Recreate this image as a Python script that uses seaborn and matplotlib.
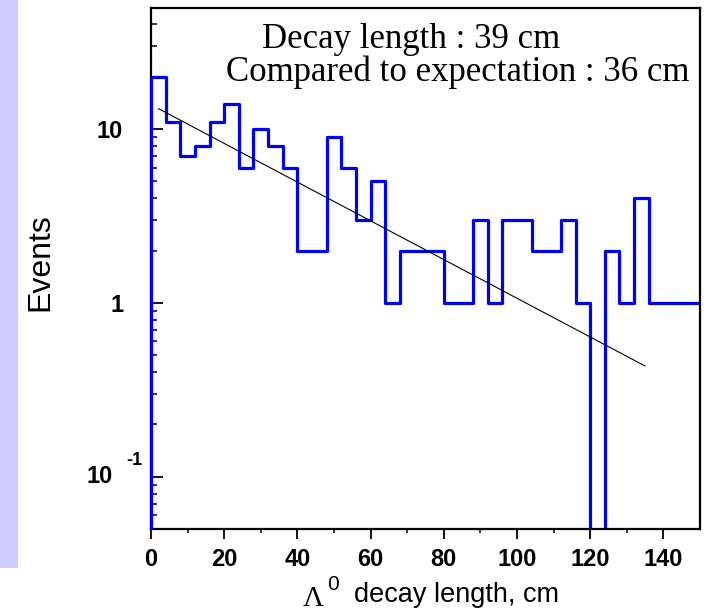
import numpy as np
import pandas as pd
import matplotlib
matplotlib.use("Agg")
import matplotlib.pyplot as plt
from matplotlib.patches import Rectangle
from matplotlib.ticker import FixedLocator, FixedFormatter, LogLocator, NullFormatter
import seaborn as sns

# Lambda0 decay-length histogram: 4 cm bins from 0 to 152 cm
bin_width = 4
bin_range = (0, 152)
counts = [20, 11, 7, 8, 11, 14, 6, 10, 8, 6,
          2, 2, 9, 6, 3, 5, 1, 2, 2, 2,
          1, 1, 3, 1, 3, 3, 2, 2, 3, 1,
          0, 2, 1, 4, 1, 1, 1, 1]

# Exponential fit N(x) = N0 * exp(-x / L)
decay_length = 39.0      # cm, fitted
expected_length = 36.0   # cm
fit_norm = 13.8
fit_range = (2.0, 135.0)

x_ticks = [0, 20, 40, 60, 80, 100, 120, 140]
x_minor = [10, 30, 50, 70, 90, 110, 130]
y_ticks = [0.1, 1, 10]

W, H = 707, 612
sns.set_theme(style="white")
plt.rcParams["font.family"] = ["Liberation Sans", "DejaVu Sans"]

fig = plt.figure(figsize=(W / 100, H / 100), dpi=100)
fig.patch.set_facecolor("white")

# side band on the left of the canvas
fig.patches.append(Rectangle((0, 1 - 568 / H), 18 / W, 568 / H,
                             transform=fig.transFigure, facecolor="#ccccff",
                             edgecolor="none", zorder=0))

L, R, T, B = 151, 700, 7.5, 529
ax = fig.add_axes([L / W, 1 - B / H, (R - L) / W, (B - T) / H])
ax.set_facecolor("white")

bin_left = np.arange(bin_range[0], bin_range[1], bin_width)
df = pd.DataFrame({"length": bin_left + bin_width / 2, "events": counts})
sns.histplot(data=df, x="length", weights="events", binwidth=bin_width,
             binrange=bin_range, element="step", fill=False, color="#0000ff",
             linewidth=2.3, ax=ax)
ax.set_yscale("log")
ax.set_xlim(0, 150)
ax.set_ylim(0.05, 50)
# left outline of the first bin
ax.vlines(bin_left[0], 0.05, counts[0], color="#0000ff", linewidth=2.3,
          zorder=3, clip_on=False)

x_fit = np.linspace(fit_range[0], fit_range[1], 200)
y_fit = fit_norm * np.exp(-x_fit / decay_length)
sns.lineplot(x=x_fit, y=y_fit, color="black", linewidth=0.8, ax=ax)

for s in ax.spines.values():
    s.set_color("black")
    s.set_linewidth(1.6)
    s.set_visible(True)

tick_fs = 17

ax.xaxis.set_major_locator(FixedLocator(x_ticks))
ax.xaxis.set_minor_locator(FixedLocator(x_minor))
ax.set_xticklabels([str(v) for v in x_ticks])
ax.tick_params(axis="x", which="major", direction="out", length=7, width=1.3,
               pad=7, labelsize=tick_fs, colors="black", bottom=True, top=False)
ax.tick_params(axis="x", which="minor", direction="out", length=3, width=1.3,
               bottom=True, top=False)
for lbl in ax.get_xticklabels():
    lbl.set_fontweight("bold")

ax.yaxis.set_major_locator(FixedLocator(y_ticks))
ax.yaxis.set_major_formatter(FixedFormatter(["", "1", "10"]))
ax.yaxis.set_minor_locator(LogLocator(base=10, subs=np.arange(2, 10)))
ax.yaxis.set_minor_formatter(NullFormatter())
ax.tick_params(axis="y", which="major", direction="in", length=8.5, width=1.3,
               pad=20, labelsize=tick_fs, colors="black", left=True, right=False)
ax.tick_params(axis="y", which="minor", direction="in", length=4, width=1.3,
               left=True, right=False)
for lbl in ax.get_yticklabels():
    lbl.set_fontweight("bold")

# 10^-1 label with a detached exponent
ytr = ax.get_yaxis_transform()
ax.text(-38 / (R - L), 0.1, "10", transform=ytr, ha="right", va="center",
        fontsize=tick_fs, fontweight="bold", color="black")
ax.text(-25 / (R - L), 0.1 * 10 ** (16 / 174), "-1", transform=ytr,
        ha="left", va="center", fontsize=13, fontweight="bold", color="black")

ax.set_xlabel("")
ax.set_ylabel("")
fig.text(40 / W, 1 - 262 / H, "Events", rotation=90, ha="center", va="center",
         fontsize=23, color="black")

# x-axis title: serif Lambda, sans superscript and words
fig.text(313 / W, 1 - 606 / H, "\u039b", family="Liberation Serif",
         ha="center", va="baseline", fontsize=21, color="black")
fig.text(332.5 / W, 1 - 585 / H, "0", ha="center", va="center",
         fontsize=15, color="black")
fig.text(354 / W, 1 - 602 / H, "decay length, cm", ha="left", va="baseline",
         fontsize=19.5, color="black")

# fit summary
fig.text(411 / W, 1 - 40 / H, f"Decay length : {decay_length:.0f} cm",
         family="Liberation Serif", ha="center", va="center", fontsize=25,
         color="black")
fig.text(458 / W, 1 - 72 / H,
         f"Compared to expectation : {expected_length:.0f} cm",
         family="Liberation Serif", ha="center", va="center", fontsize=25,
         color="black")

fig.savefig("out.png", dpi=100)
